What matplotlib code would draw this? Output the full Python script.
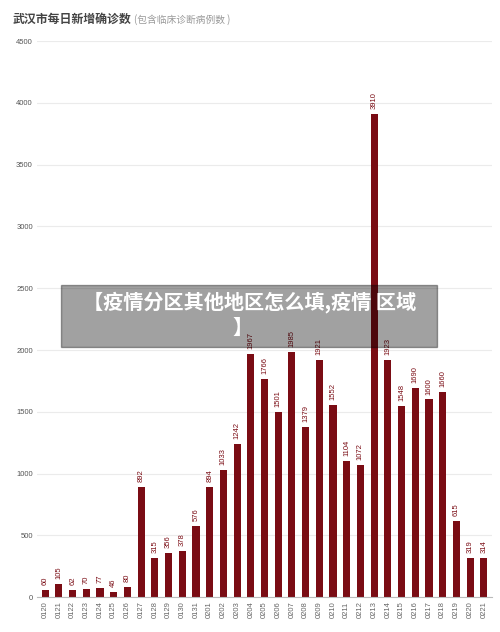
import matplotlib.pyplot as plt
import numpy as np

plt.rcParams['font.family'] = ['Noto Sans CJK SC', 'DejaVu Sans']

dates = ["0120", "0121", "0122", "0123", "0124", "0125", "0126", "0127", "0128",
         "0129", "0130", "0131", "0201", "0202", "0203", "0204", "0205", "0206",
         "0207", "0208", "0209", "0210", "0211", "0212", "0213", "0214", "0215",
         "0216", "0217", "0218", "0219", "0220", "0221"]
cases = [60, 105, 62, 70, 77, 46, 80, 892, 315, 356, 378, 576, 894, 1033, 1242,
         1967, 1766, 1501, 1985, 1379, 1921, 1552, 1104, 1072, 3910, 1923, 1548,
         1690, 1600, 1660, 615, 319, 314]
y_ticks = [0, 500, 1000, 1500, 2000, 2500, 3000, 3500, 4000, 4500]

bar_color = "#7a0c14"

fig = plt.figure(figsize=(5, 6.32), dpi=100)
ax = fig.add_axes([0.074, 0.055, 0.91, 0.880])

x = np.arange(len(dates))
ax.bar(x, cases, width=0.52, color=bar_color, zorder=2)
for xi, v in zip(x, cases):
    ax.text(xi, v + 40, str(v), rotation=90, ha="center", va="bottom",
            fontsize=5.5, color=bar_color, family="Liberation Sans")

ax.set_xlim(-0.6, len(dates) - 0.4)
ax.set_ylim(0, 4500)
ax.set_yticks(y_ticks)
ax.set_yticklabels([str(t) for t in y_ticks], fontsize=5.5, color="#555555",
                   family="Liberation Sans")
ax.set_xticks(x)
ax.set_xticklabels(dates, rotation=90, fontsize=5.5, color="#666666",
                   family="Liberation Sans")
ax.tick_params(axis="both", length=0, pad=3)
ax.grid(axis="y", color="#ebebeb", linewidth=0.8, zorder=0)
for s in ["top", "right", "left"]:
    ax.spines[s].set_visible(False)
ax.spines["bottom"].set_color("#bbbbbb")
ax.spines["bottom"].set_linewidth(0.8)

fig.text(0.026, 0.970, "武汉市每日新增确诊数", fontsize=8.6, fontweight="bold",
         color="#444444", va="center")
fig.text(0.268, 0.969, "(包含临床诊断病例数 )", fontsize=7, color="#999999",
         va="center")

# gray overlay banner
fig.patches.append(plt.Rectangle((0.122, 0.451), 0.752, 0.098,
                                 transform=fig.transFigure, color="black",
                                 alpha=0.37, zorder=5))
fig.text(0.500, 0.522, "【疫情分区其他地区怎么填,疫情 区域", fontsize=14.5,
         fontweight="bold", color="white", ha="center", va="center", zorder=6)
fig.text(0.485, 0.482, "】", fontsize=14.5, fontweight="bold", color="white",
         ha="center", va="center", zorder=6)

fig.savefig("out.png", dpi=100)
